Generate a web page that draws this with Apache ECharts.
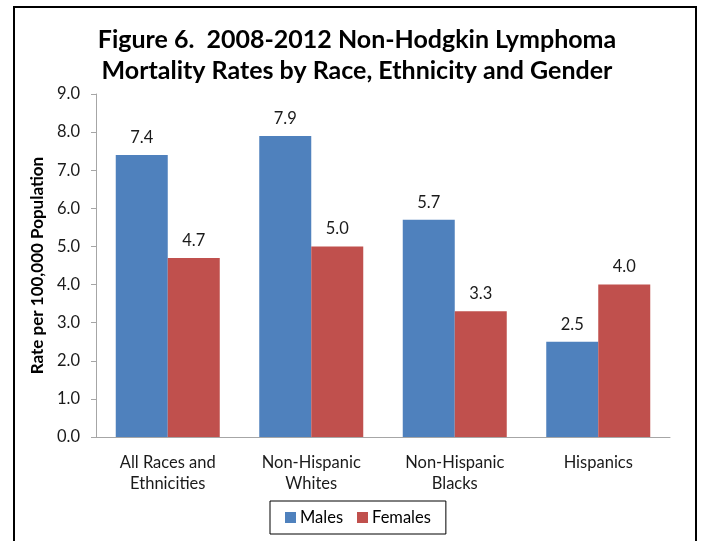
<!DOCTYPE html>
<html>
<head>
<meta charset="utf-8">
<script src="https://cdn.jsdelivr.net/npm/echarts@6/dist/echarts.min.js"></script>
<style>
html,body{margin:0;padding:0;background:#fff;}
#chart{width:704px;height:541px;}
</style>
</head>
<body>
<div id="chart"></div>
<script>
const categories = ['All Races and\nEthnicities', 'Non-Hispanic\nWhites', 'Non-Hispanic\nBlacks', 'Hispanics'];
const males = [7.4, 7.9, 5.7, 2.5];
const females = [4.7, 5.0, 3.3, 4.0];
const seriesNames = ['Males', 'Females'];
const yTicks = { min: 0, max: 9, interval: 1 };

const FONT = 'Lato, "Open Sans", sans-serif';
const chart = echarts.init(document.getElementById('chart'), null, { renderer: 'canvas' });

const labelCfg = {
  show: true, position: 'top', distance: 9,
  formatter: p => p.value.toFixed(1),
  fontFamily: FONT, fontSize: 16.5, color: '#1a1a1a'
};

chart.setOption({
  animation: false,
  backgroundColor: '#fff',
  title: {
    text: 'Figure 6.  2008-2012 Non-Hodgkin Lymphoma\nMortality Rates by Race, Ethnicity and Gender',
    left: 352, textAlign: 'center', top: 19,
    textStyle: { fontFamily: FONT, fontWeight: 'bold', fontSize: 25, lineHeight: 31, color: '#000' }
  },
  legend: {
    data: seriesNames,
    left: 270, top: 501,
    borderColor: '#000', borderWidth: 1,
    padding: [8, 15, 8, 15],
    itemWidth: 11, itemHeight: 11, itemGap: 14,
    icon: 'rect',
    textStyle: { fontFamily: FONT, fontSize: 16.5, color: '#000', padding: [0, 0, 0, -1] }
  },
  grid: { left: 96, right: 34, top: 94, bottom: 104, containLabel: false },
  xAxis: {
    type: 'category', data: categories,
    axisLine: { lineStyle: { color: '#a6a6a6', width: 1 } },
    axisTick: { show: false },
    axisLabel: { fontFamily: FONT, fontSize: 16.5, color: '#1a1a1a', lineHeight: 21, margin: 15 }
  },
  yAxis: {
    type: 'value', min: yTicks.min, max: yTicks.max, interval: yTicks.interval,
    name: 'Rate per 100,000 Population', nameLocation: 'middle', nameGap: 49,
    nameTextStyle: { fontFamily: FONT, fontWeight: 'bold', fontSize: 17, color: '#000' },
    axisLine: { show: true, lineStyle: { color: '#a6a6a6', width: 1 } },
    axisTick: { show: true, length: 5, lineStyle: { color: '#a6a6a6' } },
    splitLine: { show: false },
    axisLabel: { fontFamily: FONT, fontSize: 16.5, color: '#1a1a1a', margin: 16, formatter: v => v.toFixed(1) }
  },
  series: [
    { name: seriesNames[0], type: 'bar', data: males, barWidth: 52, barGap: '0%',
      itemStyle: { color: '#4F81BD' }, label: labelCfg },
    { name: seriesNames[1], type: 'bar', data: females, barWidth: 52, barGap: '0%',
      itemStyle: { color: '#C0504D' }, label: labelCfg }
  ],
  graphic: [{
    type: 'rect', silent: true, z: 100,
    shape: { x: 14, y: 7, width: 682, height: 560 },
    style: { fill: 'none', stroke: '#000', lineWidth: 2 }
  }]
});
</script>
</body>
</html>
